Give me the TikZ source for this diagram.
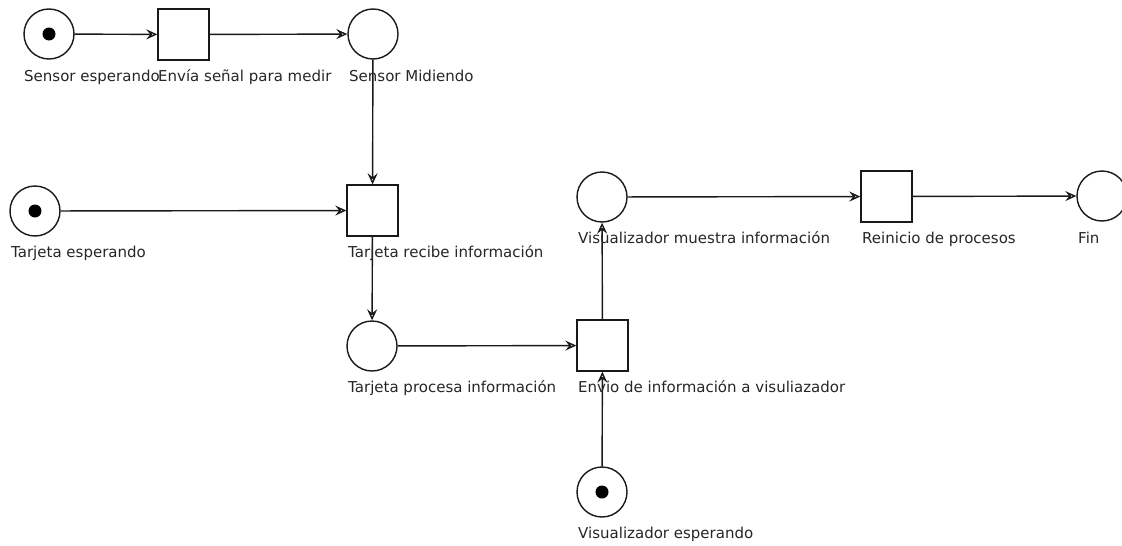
\documentclass[tikz,border=0pt]{standalone}
\usepackage{fontspec}
\setmainfont{DejaVu Sans}
\usetikzlibrary{arrows.meta}
\begin{document}
\begin{tikzpicture}[x=1pt,y=-1pt,
 place/.style={circle,draw=black!90,line width=1.4pt,minimum size=50pt,inner sep=0pt},
 trans/.style={rectangle,draw=black!90,line width=1.4pt,minimum size=51pt,inner sep=0pt},
 token/.style={circle,fill=black,minimum size=13pt,inner sep=0pt},
 lbl/.style={anchor=base west,inner sep=0pt,font=\fontsize{15}{17}\selectfont,text=black!85},
 arc/.style={draw=black!90,line width=1.4pt,-{Stealth[open,length=11pt,width=10pt,inset=4pt]}}]
\useasboundingbox (0,0) rectangle (1122,546);
% places
\node[place] (se) at (49,34) {};
\node[token] at (se) {};
\node[place] (sm) at (373,34) {};
\node[place] (te) at (35,211) {};
\node[token] at (te) {};
\node[place] (tp) at (372,346) {};
\node[place] (ve) at (602,492) {};
\node[token] at (ve) {};
\node[place] (vm) at (602,197) {};
\node[place] (fin) at (1102,196) {};
% transitions
\node[trans] (es) at (183.5,34.5) {};
\node[trans] (tr) at (372.5,210.5) {};
\node[trans] (ei) at (602.5,345.5) {};
\node[trans] (rp) at (886.5,196.5) {};
% arcs
\draw[arc] (se) -- (es);
\draw[arc] (es) -- (sm);
\draw[arc] (sm) -- (tr);
\draw[arc] (te) -- (tr);
\draw[arc] (tr) -- (tp);
\draw[arc] (tp) -- (ei);
\draw[arc] (ve) -- (ei);
\draw[arc] (ei) -- (vm);
\draw[arc] (vm) -- (rp);
\draw[arc] (rp) -- (fin);
% labels
\node[lbl] (lse) at (24,81) {Sensor esperando};
\node[lbl] (les) at (158,81) {Envía señal para medir};
\node[lbl] (lsm) at (349,81) {Sensor Midiendo};
\node[lbl] (lte) at (11,257) {Tarjeta esperando};
\node[lbl] (ltr) at (348,257) {Tarjeta recibe información};
\node[lbl] (ltp) at (348,392) {Tarjeta procesa información};
\node[lbl] (lei) at (578,392) {Envio de información a visuliazador};
\node[lbl] (lve) at (578,538) {Visualizador esperando};
\node[lbl] (lvm) at (578,243) {Visualizador muestra información};
\node[lbl] (lrp) at (862,243) {Reinicio de procesos};
\node[lbl] (lfin) at (1078,243) {Fin};
\end{tikzpicture}
\end{document}
